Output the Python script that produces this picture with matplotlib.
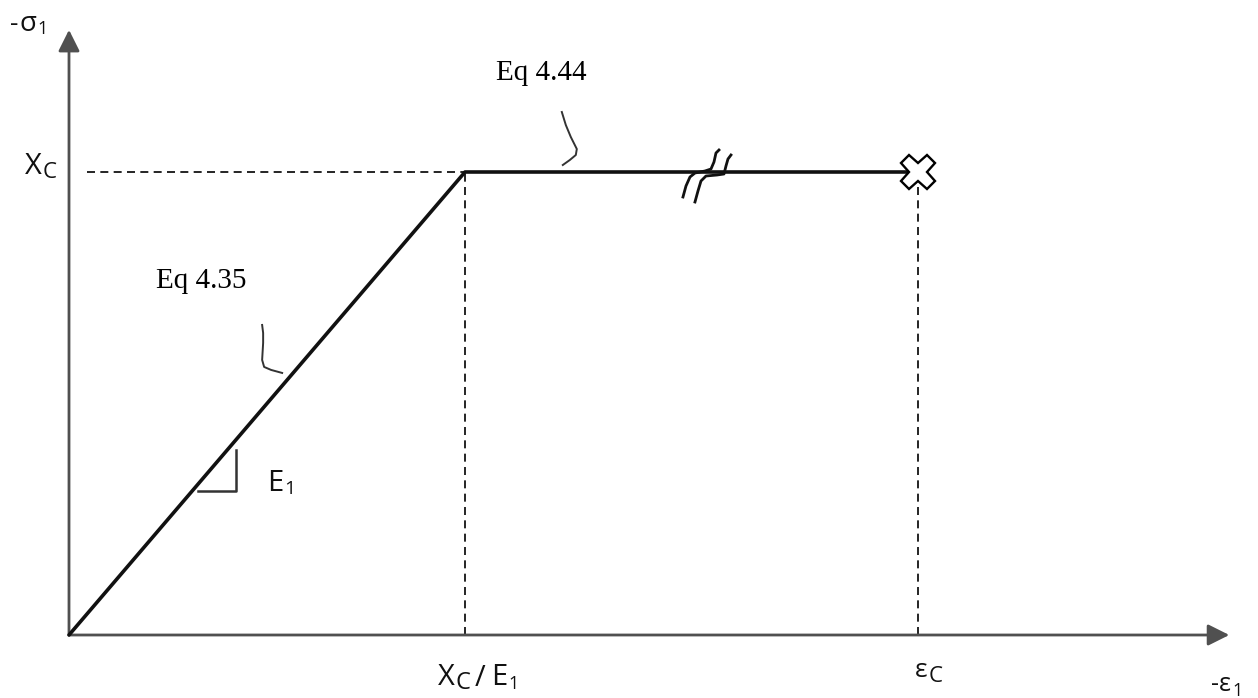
import matplotlib.pyplot as plt
import numpy as np

# stress-strain curve, strain in units of Xc/E1, stress in units of Xc
curve_strain = [0.0, 1.0, 2.145]
curve_stress = [0.0, 1.0, 1.0]
peak_strain = 1.0
fail_strain = 2.145
peak_stress = 1.0
break_strain = 1.606
axis_strain_max = 2.93
axis_stress_max = 1.307

# slope triangle for E1
tri_strain = [0.326, 0.422, 0.422]
tri_stress = [0.311, 0.311, 0.400]

# hand drawn strokes, offsets in pixels (dx right, dy down) from a point on the curve
squiggle_35 = [(-31, -48), (-30, -40), (-30, -30), (-31, -13), (-29, -6), (-22, -3), (-11, 0)]
squiggle_44 = [(-1, -60), (3, -47), (8, -35), (14, -23), (13, -17), (7, -12), (0, -7)]
break_a = [(-22, 25), (-19, 14), (-15, 5), (-10, 1), (0, -1), (6, -3), (9, -10), (11, -19), (14, -22)]
break_b = [(-10, 30), (-7, 19), (-4, 9), (1, 4), (12, 3), (19, 2), (21, -6), (23, -13), (26, -17)]

# labels: anchor (left px, baseline px) and parts (text, size, drop px, gap px)
labels = [
    ((10, 31), [('-', 19, 0, 0), ('σ', 20, 0, 1), ('1', 13, 3, 1)]),
    ((25, 174), [('X', 21, 0, 0), ('C', 16, 4, 1)]),
    ((267, 491), [('E', 21, 0, 0), ('1', 14, 3, 1)]),
    ((438, 685), [('X', 21, 0, 0), ('C', 17, 4, 1), ('/', 21, 1, 4), ('E', 21, 0, 6), ('1', 13, 4, 1)]),
    ((915, 677), [('ε', 19, 0, 0), ('C', 16, 5, 1)]),
    ((1211, 691), [('-', 18, 0, 0), ('ε', 18, 0, 0), ('1', 13, 5, 1)]),
]
eq_labels = [('Eq 4.35', 156, 288), ('Eq 4.44', 496, 80)]

# pixel scale of the drawing
PX_X = 396.0
PX_Y = 463.0

fig = plt.figure(figsize=(12.58, 6.98), dpi=100)
ax = fig.add_axes([0, 0, 1, 1])
ax.set_xlim(-69 / PX_X, (1258 - 69) / PX_X)
ax.set_ylim((635 - 698) / PX_Y, 635 / PX_Y)
ax.axis('off')


def px(x, y):
    return (x - 69) / PX_X, (635 - y) / PX_Y


def stroke(anchor, offsets, **kw):
    xs = [anchor[0] + dx / PX_X for dx, dy in offsets]
    ys = [anchor[1] - dy / PX_Y for dx, dy in offsets]
    ax.plot(xs, ys, **kw)


# axes with arrows
arrow = dict(arrowstyle='-|>,head_length=0.5,head_width=0.25', color='#505050',
             lw=2, mutation_scale=26, shrinkA=0, shrinkB=0)
ax.annotate('', xy=(0, axis_stress_max), xytext=(0, 0), arrowprops=arrow)
ax.annotate('', xy=(axis_strain_max, 0), xytext=(0, 0), arrowprops=arrow)

# dashed guides
dash = dict(color='black', lw=1.2, linestyle=(0, (4.8, 3.2)))
ax.plot([0.045, peak_strain], [peak_stress, peak_stress], **dash)
ax.plot([peak_strain, peak_strain], [0, peak_stress], **dash)
ax.plot([fail_strain, fail_strain], [0, peak_stress], **dash)

# main curve
ax.plot(curve_strain, curve_stress, color='#111111', lw=2.6, solid_capstyle='round', zorder=3)
ax.plot(fail_strain, peak_stress, marker='X', ms=25, mfc='white', mec='black', mew=1.7, zorder=5)

# break mark
stroke((break_strain, peak_stress), break_a, color='#111111', lw=2, zorder=4)
stroke((break_strain, peak_stress), break_b, color='#111111', lw=2, zorder=4)

# leader squiggles
stroke((0.566, 0.566), squiggle_35, color='#333333', lw=1.4)
stroke((1.247, peak_stress), squiggle_44, color='#333333', lw=1.4)

# slope triangle
ax.plot(tri_strain, tri_stress, color='#333333', lw=1.8)

sans = ['Open Sans', 'DejaVu Sans']
serif = ['Liberation Serif', 'DejaVu Serif']

for s, x, y in eq_labels:
    ax.text(*px(x, y), s, family=serif, fontsize=21, ha='left', va='baseline')

renderer = fig.canvas.get_renderer()
for (x0, y0), parts in labels:
    x = x0
    for s, size, drop, gap in parts:
        x += gap
        t = ax.text(*px(x, y0 + drop), s, family=sans, fontsize=size, ha='left',
                    va='baseline', color='#111111')
        x += t.get_window_extent(renderer).width

fig.savefig('out.png', dpi=100)
